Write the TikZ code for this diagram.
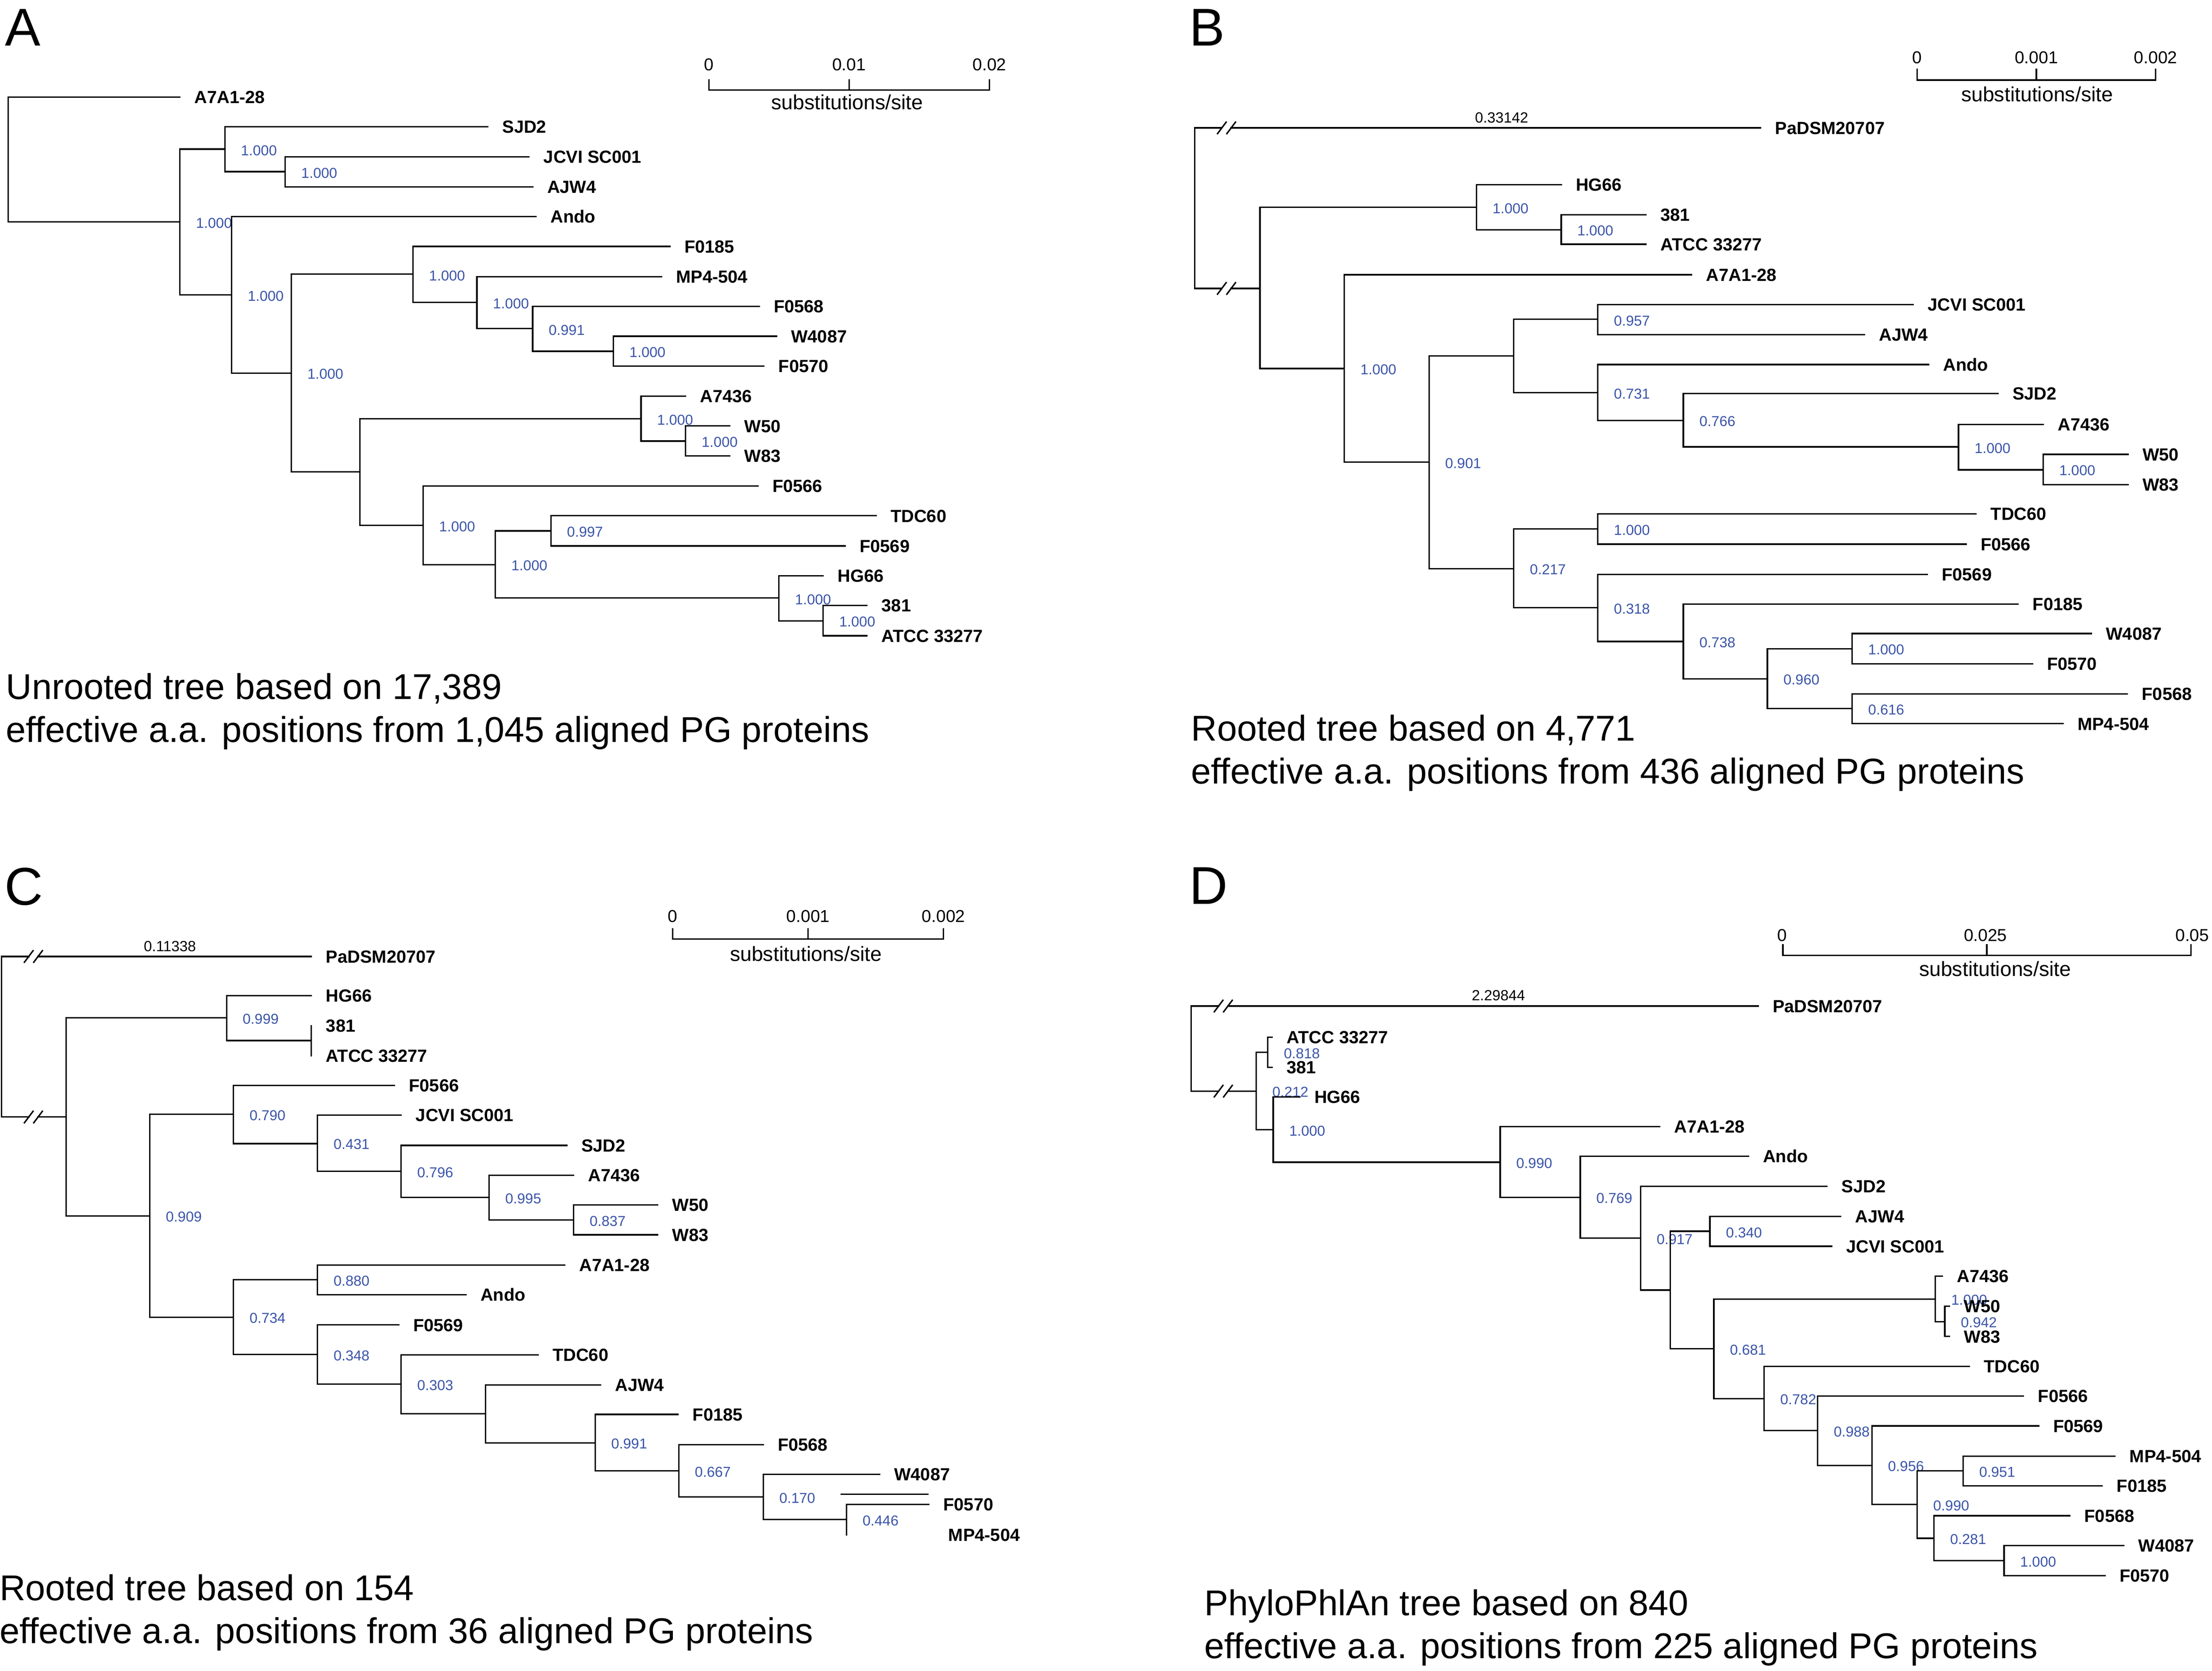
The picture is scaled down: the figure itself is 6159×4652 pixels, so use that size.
\documentclass[tikz,border=0pt]{standalone}
\usepackage{fontspec}
\setmainfont{Liberation Sans}
\definecolor{supb}{RGB}{58,84,168}
\newcount\nodecnt
\tikzset{
 brl/.style={line width=1pt, line cap=rect},
 leaf/.style={anchor=base west, inner sep=0pt, font=\fontsize{12.25pt}{14pt}\selectfont\bfseries},
 supp/.style={anchor=base west, inner sep=0pt, text=supb, font=\fontsize{10pt}{12pt}\selectfont},
 blab/.style={anchor=base, inner sep=0pt, font=\fontsize{10.25pt}{12pt}\selectfont},
 slab/.style={anchor=base, inner sep=0pt, font=\fontsize{12pt}{14pt}\selectfont},
 subst/.style={anchor=base, inner sep=0pt, font=\fontsize{14.3pt}{16pt}\selectfont},
 captext/.style={anchor=base west, inner sep=0pt, font=\fontsize{24.95pt}{29pt}\selectfont},
 plet/.style={anchor=base west, inner sep=0pt, font=\fontsize{37pt}{44pt}\selectfont},
}
% vertical line at x from y1 to y2
\newcommand\trV[3]{\draw[brl] (#1,#2) -- (#1,#3);}
% horizontal line x1 -> x2 at y
\newcommand\trH[3]{\draw[brl] (#1,#3) -- (#2,#3);}
% leaf label placed after branch end x at y
\newcommand\trN[3]{\global\advance\nodecnt by 1\relax
  \node[leaf] (lf\the\nodecnt) at ({#1+40},{#2+17.5}) {#3};}
% leaf branch with label
\newcommand\trL[4]{\draw[brl] (#1,#3) -- (#2,#3);\trN{#2}{#3}{#4}}
% internal node (vertical line) with support value
\newcommand\trS[4]{\draw[brl] (#1,#2) -- (#1,#3);\global\advance\nodecnt by 1\relax
  \node[supp] (sp\the\nodecnt) at ({#1+44},{(#2+#3)/2+17}) {#4};}
% broken branch with // marks
\newcommand\trB[3]{\draw[brl] (#1,#3) -- ({#1+76},#3) ({#1+102},#3) -- (#2,#3);
  \draw[brl] ({#1+64},{#3+16}) -- ({#1+88},{#3-16}) ({#1+90},{#3+16}) -- ({#1+114},{#3-16});}
\begin{document}
\begin{tikzpicture}[x=0.25pt,y=-0.25pt]
\fill[white] (0,0) rectangle (6159,4652);
\useasboundingbox (0,0) rectangle (6159,4652);

% ================= Panel A =================
\node[plet] (letA) at (13,127) {A};
\draw[brl] (1974,223) -- (1974,251) -- (2755,251) -- (2755,223);
\draw[brl] (2364,251) -- (2364,223);
\node[slab] (sA0) at (1974,196) {0};
\node[slab] (sA1) at (2364,196) {0.01};
\node[slab] (sA2) at (2755,196) {0.02};
\node[subst] (sAt) at (2359,305) {substitutions/site};

\trV{23}{270}{618}
\trL{23}{501}{270}{A7A1-28}
\trH{23}{501}{618}
\trS{501}{415}{821}{1.000}
\trH{501}{626}{415}
\trH{501}{645}{821}
\trS{626}{353}{478}{1.000}
\trL{626}{1358}{353}{SJD2}
\trH{626}{794}{478}
\trS{794}{437}{520}{1.000}
\trL{794}{1473}{437}{JCVI SC001}
\trL{794}{1483}{520}{AJW4}
\trS{645}{603}{1039}{1.000}
\trL{645}{1492}{603}{Ando}
\trH{645}{811}{1039}
\trS{811}{763}{1314}{1.000}
\trH{811}{1150}{763}
\trH{811}{1002}{1314}
\trS{1150}{686}{842}{1.000}
\trL{1150}{1865}{686}{F0185}
\trH{1150}{1328}{842}
\trS{1328}{770}{915}{1.000}
\trL{1328}{1842}{770}{MP4-504}
\trH{1328}{1483}{915}
\trS{1483}{853}{978}{0.991}
\trL{1483}{2114}{853}{F0568}
\trH{1483}{1708}{978}
\trS{1708}{936}{1019}{1.000}
\trL{1708}{2162}{936}{W4087}
\trL{1708}{2127}{1019}{F0570}
\trV{1002}{1166}{1463}
\trH{1002}{1785}{1166}
\trH{1002}{1178}{1463}
\trS{1785}{1103}{1228}{1.000}
\trL{1785}{1909}{1103}{A7436}
\trH{1785}{1909}{1228}
\trS{1909}{1186}{1269}{1.000}
\trL{1909}{2032}{1186}{W50}
\trL{1909}{2032}{1269}{W83}
\trS{1178}{1353}{1572}{1.000}
\trL{1178}{2110}{1353}{F0566}
\trH{1178}{1379}{1572}
\trS{1379}{1478}{1665}{1.000}
\trH{1379}{1534}{1478}
\trH{1379}{2169}{1665}
\trS{1534}{1436}{1520}{0.997}
\trL{1534}{2439}{1436}{TDC60}
\trL{1534}{2353}{1520}{F0569}
\trS{2169}{1603}{1729}{1.000}
\trL{2169}{2292}{1603}{HG66}
\trH{2169}{2292}{1729}
\trS{2292}{1686}{1770}{1.000}
\trL{2292}{2414}{1686}{381}
\trL{2292}{2414}{1770}{ATCC 33277}

\node[captext] (cA1) at (16,1947) {Unrooted tree based on 17,389};
\node[captext] (cA2) at (16,2066) {effective a.a. positions from 1,045 aligned PG proteins};

% ================= Panel B =================
\node[plet] (letB) at (3311,128) {B};
\draw[brl] (5338,193) -- (5338,223) -- (6002,223) -- (6002,193);
\draw[brl] (5670,223) -- (5670,193);
\node[slab] (sB0) at (5338,177) {0};
\node[slab] (sB1) at (5670,177) {0.001};
\node[slab] (sB2) at (6002,177) {0.002};
\node[subst] (sBt) at (5672,283) {substitutions/site};

\trV{3326}{356}{803}
\trB{3326}{4902}{356}
\trN{4902}{356}{PaDSM20707}
\node[blab] (bB) at (4181,342) {0.33142};
\trB{3326}{3508}{803}
\trV{3508}{577}{1026}
\trH{3508}{4111}{577}
\trH{3508}{3743}{1026}
\trS{4111}{514}{640}{1.000}
\trL{4111}{4347}{514}{HG66}
\trH{4111}{4347}{640}
\trS{4347}{598}{680}{1.000}
\trL{4347}{4583}{598}{381}
\trL{4347}{4583}{680}{ATCC 33277}
\trS{3743}{765}{1287}{1.000}
\trL{3743}{4710}{765}{A7A1-28}
\trH{3743}{3979}{1287}
\trS{3979}{991}{1583}{0.901}
\trH{3979}{4215}{991}
\trH{3979}{4215}{1583}
\trV{4215}{889}{1093}
\trH{4215}{4449}{889}
\trH{4215}{4449}{1093}
\trS{4449}{848}{932}{0.957}
\trL{4449}{5327}{848}{JCVI SC001}
\trL{4449}{5191}{932}{AJW4}
\trS{4449}{1015}{1171}{0.731}
\trL{4449}{5370}{1015}{Ando}
\trH{4449}{4687}{1171}
\trS{4687}{1096}{1244}{0.766}
\trL{4687}{5563}{1096}{SJD2}
\trH{4687}{5453}{1244}
\trS{5453}{1182}{1308}{1.000}
\trL{5453}{5689}{1182}{A7436}
\trH{5453}{5689}{1308}
\trS{5689}{1265}{1349}{1.000}
\trL{5689}{5925}{1265}{W50}
\trL{5689}{5925}{1349}{W83}
\trS{4215}{1473}{1692}{0.217}
\trH{4215}{4449}{1473}
\trH{4215}{4449}{1692}
\trS{4449}{1431}{1515}{1.000}
\trL{4449}{5502}{1431}{TDC60}
\trL{4449}{5474}{1515}{F0566}
\trS{4449}{1599}{1786}{0.318}
\trL{4449}{5366}{1599}{F0569}
\trH{4449}{4687}{1786}
\trS{4687}{1682}{1890}{0.738}
\trL{4687}{5619}{1682}{F0185}
\trH{4687}{4921}{1890}
\trS{4921}{1806}{1973}{0.960}
\trH{4921}{5157}{1806}
\trH{4921}{5157}{1973}
\trS{5157}{1764}{1848}{1.000}
\trL{5157}{5823}{1764}{W4087}
\trL{5157}{5659}{1848}{F0570}
\trS{5157}{1932}{2015}{0.616}
\trL{5157}{5923}{1932}{F0568}
\trL{5157}{5744}{2015}{MP4-504}

\node[captext] (cB1) at (3316,2062) {Rooted tree based on 4,771};
\node[captext] (cB2) at (3316,2182) {effective a.a. positions from 436 aligned PG proteins};

% ================= Panel C =================
\node[plet] (letC) at (12,2519) {C};
\draw[brl] (1873,2586) -- (1873,2614) -- (2627,2614) -- (2627,2586);
\draw[brl] (2250,2614) -- (2250,2586);
\node[slab] (sC0) at (1873,2568) {0};
\node[slab] (sC1) at (2250,2568) {0.001};
\node[slab] (sC2) at (2627,2568) {0.002};
\node[subst] (sCt) at (2244,2676) {substitutions/site};

\trV{4}{2663}{3110}
\trB{4}{867}{2663}
\trN{867}{2663}{PaDSM20707}
\node[blab] (bC) at (473,2649) {0.11338};
\trB{4}{184}{3110}
\trV{184}{2834}{3386}
\trH{184}{631}{2834}
\trH{184}{417}{3386}
\trS{631}{2772}{2897}{0.999}
\trL{631}{867}{2772}{HG66}
\trH{631}{867}{2897}
\trV{867}{2856}{2939}
\trN{867}{2856}{381}
\trN{867}{2939}{ATCC 33277}
\trS{417}{3102}{3668}{0.909}
\trH{417}{650}{3102}
\trH{417}{650}{3668}
\trS{650}{3022}{3184}{0.790}
\trL{650}{1098}{3022}{F0566}
\trH{650}{884}{3184}
\trS{884}{3105}{3261}{0.431}
\trL{884}{1117}{3105}{JCVI SC001}
\trH{884}{1117}{3261}
\trS{1117}{3189}{3334}{0.796}
\trL{1117}{1578}{3189}{SJD2}
\trH{1117}{1362}{3334}
\trS{1362}{3272}{3397}{0.995}
\trL{1362}{1597}{3272}{A7436}
\trH{1362}{1597}{3397}
\trS{1597}{3355}{3438}{0.837}
\trL{1597}{1831}{3355}{W50}
\trL{1597}{1831}{3438}{W83}
\trS{650}{3563}{3771}{0.734}
\trH{650}{884}{3563}
\trH{650}{884}{3771}
\trS{884}{3522}{3605}{0.880}
\trL{884}{1572}{3522}{A7A1-28}
\trL{884}{1297}{3605}{Ando}
\trS{884}{3689}{3854}{0.348}
\trL{884}{1110}{3689}{F0569}
\trH{884}{1117}{3854}
\trS{1117}{3772}{3936}{0.303}
\trL{1117}{1498}{3772}{TDC60}
\trH{1117}{1352}{3936}
\trV{1352}{3856}{4017}
\trL{1352}{1672}{3856}{AJW4}
\trH{1352}{1657}{4017}
\trS{1657}{3938}{4095}{0.991}
\trL{1657}{1888}{3938}{F0185}
\trH{1657}{1890}{4095}
\trS{1890}{4022}{4168}{0.667}
\trL{1890}{2125}{4022}{F0568}
\trH{1890}{2125}{4168}
\trS{2125}{4105}{4231}{0.170}
\trL{2125}{2449}{4105}{W4087}
\trH{2125}{2357}{4231}
\trH{2343}{2583}{4160}
\trS{2357}{4189}{4273}{0.446}
\trL{2357}{2586}{4189}{F0570}
\trN{2600}{4273}{MP4-504}

\node[captext] (cC1) at (-2,4456) {Rooted tree based on 154};
\node[captext] (cC2) at (-2,4575) {effective a.a. positions from 36 aligned PG proteins};

% ================= Panel D =================
\node[plet] (letD) at (3311,2517) {D};
\draw[brl] (4964,2631) -- (4964,2660) -- (6100,2660) -- (6100,2631);
\draw[brl] (5532,2660) -- (5532,2631);
\node[slab] (sD0) at (4962,2621) {0};
\node[slab] (sD1) at (5528,2621) {0.025};
\node[slab] (sD2) at (6104,2621) {0.05};
\node[subst] (sDt) at (5555,2718) {substitutions/site};

\trV{3317}{2801}{3038}
\trB{3317}{4895}{2801}
\trN{4895}{2801}{PaDSM20707}
\node[blab] (bD) at (4172,2786) {2.29844};
\trB{3317}{3498}{3038}
\trS{3498}{2930}{3145}{0.212}
\trH{3498}{3530}{2930}
\trH{3498}{3545}{3145}
\trS{3530}{2888}{2972}{0.818}
\trL{3530}{3542}{2888}{ATCC 33277}
\trL{3530}{3542}{2972}{381}
\trS{3545}{3054}{3236}{1.000}
\trL{3545}{3619}{3054}{HG66}
\trH{3545}{4177}{3236}
\trS{4177}{3137}{3334}{0.990}
\trL{4177}{4621}{3137}{A7A1-28}
\trH{4177}{4400}{3334}
\trS{4400}{3219}{3447}{0.769}
\trL{4400}{4868}{3219}{Ando}
\trH{4400}{4568}{3447}
\trS{4568}{3303}{3592}{0.917}
\trL{4568}{5087}{3303}{SJD2}
\trH{4568}{4651}{3592}
\trV{4651}{3428}{3755}
\trH{4651}{4761}{3428}
\trH{4651}{4772}{3755}
\trS{4761}{3387}{3470}{0.340}
\trL{4761}{5125}{3387}{AJW4}
\trL{4761}{5100}{3470}{JCVI SC001}
\trS{4772}{3617}{3894}{0.681}
\trH{4772}{5388}{3617}
\trH{4772}{4912}{3894}
\trS{5388}{3553}{3680}{1.000}
\trL{5388}{5408}{3553}{A7436}
\trH{5388}{5415}{3680}
\trS{5415}{3637}{3721}{0.942}
\trL{5415}{5428}{3637}{W50}
\trL{5415}{5428}{3721}{W83}
\trS{4912}{3804}{3983}{0.782}
\trL{4912}{5483}{3804}{TDC60}
\trH{4912}{5061}{3983}
\trS{5061}{3887}{4080}{0.988}
\trL{5061}{5634}{3887}{F0566}
\trH{5061}{5212}{4080}
\trS{5212}{3970}{4189}{0.956}
\trL{5212}{5676}{3970}{F0569}
\trH{5212}{5338}{4189}
\trS{5338}{4095}{4283}{0.990}
\trH{5338}{5466}{4095}
\trH{5338}{5385}{4283}
\trS{5466}{4054}{4137}{0.951}
\trL{5466}{5889}{4054}{MP4-504}
\trL{5466}{5853}{4137}{F0185}
\trS{5385}{4220}{4345}{0.281}
\trL{5385}{5763}{4220}{F0568}
\trH{5385}{5580}{4345}
\trS{5580}{4303}{4387}{1.000}
\trL{5580}{5913}{4303}{W4087}
\trL{5580}{5861}{4387}{F0570}

\node[captext] (cD1) at (3353,4498) {PhyloPhlAn tree based on 840};
\node[captext] (cD2) at (3353,4617) {effective a.a. positions from 225 aligned PG proteins};
\end{tikzpicture}
\end{document}
